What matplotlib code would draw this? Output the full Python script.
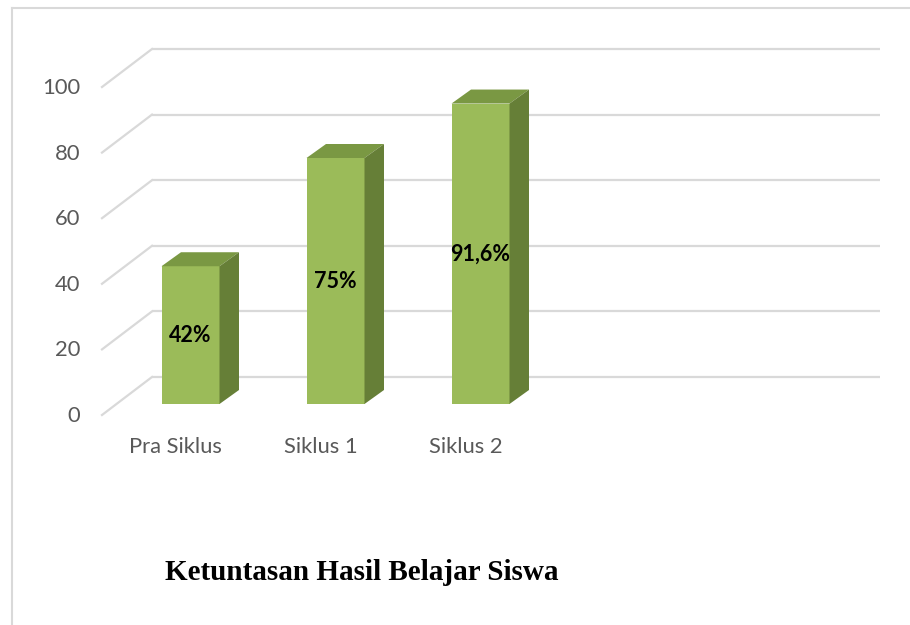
import numpy as np
import matplotlib.pyplot as plt
from matplotlib.lines import Line2D

# --- data ---
categories = ['Pra Siklus', 'Siklus 1', 'Siklus 2']
values = [42, 75, 91.6]
value_labels = ['42%', '75%', '91,6%']
y_ticks = [0, 20, 40, 60, 80, 100]
title = 'Ketuntasan Hasil Belajar Siswa'

# --- look ---
W, H = 910, 625
PX_PER_CAT = 145.0      # pixels between bar centres
PX_PER_UNIT = 3.28      # pixels per value unit
X0_PX = 190.5           # centre of first bar front face
Y0_PX = 404.0           # value 0 on the bar front plane (from top)

FRONT = '#9BBB59'
TOP = '#7A9843'
SIDE = '#667F37'
GRID = '#D9D9D9'
TEXT = '#595959'

def dx(px):
    return px / PX_PER_CAT

def dy(px):
    return px / PX_PER_UNIT

bar_w = dx(58)
depth_x, depth_y = dx(19.5), dy(14)
wall_y = dy(27)                 # back wall sits 27 px above front plane
wall_left, wall_right = dx(152 - X0_PX), dx(880 - X0_PX)
side_dx, side_dy = dx(-50), dy(-38)

fig = plt.figure(figsize=(W / 100, H / 100), dpi=100)
ax = fig.add_axes([0, 0, 1, 1])
ax.set_xlim(dx(-X0_PX), dx(W - X0_PX))
ax.set_ylim(dy(-(H - Y0_PX)), dy(Y0_PX))
ax.axis('off')

# back wall grid + left side wall lines
for v in y_ticks:
    yb = v + wall_y
    ax.plot([wall_left, wall_right], [yb, yb], color=GRID, lw=1.6, zorder=1,
            solid_capstyle='butt')
    ax.plot([wall_left, wall_left + side_dx], [yb, yb + side_dy], color=GRID,
            lw=1.6, zorder=1)
    ax.text(wall_left + side_dx - dx(22), yb + side_dy - dy(1), str(v),
            ha='right', va='center', fontsize=15.8, color=TEXT, family='Lato')

# bars
x = np.arange(len(categories))
for xi, v, lab in zip(x, values, value_labels):
    l, r = xi - bar_w / 2, xi + bar_w / 2
    ax.fill([l, r, r, l], [0, 0, v, v], color=FRONT, lw=0, zorder=3)
    ax.fill([l, r, r + depth_x, l + depth_x], [v, v, v + depth_y, v + depth_y],
            color=TOP, lw=0, zorder=3)
    ax.fill([r, r + depth_x, r + depth_x, r], [0, depth_y, v + depth_y, v],
            color=SIDE, lw=0, zorder=3)
    ax.text(xi, v / 2, lab, ha='center', va='center', fontsize=15.5,
            fontweight='bold', color='black', family='Lato', zorder=4)

# category labels on the floor front edge
for xi, c in zip(x, categories):
    ax.text(xi + dx(-15), dy(-43), c, ha='center', va='center', fontsize=15.8,
            color=TEXT, family='Lato')

# chart area border (cropped at right and bottom)
fig.add_artist(Line2D([12 / W, 12 / W], [0, 1 - 8 / H], color=GRID, lw=1.5))
fig.add_artist(Line2D([12 / W, 1], [1 - 8 / H, 1 - 8 / H], color=GRID, lw=1.5))

fig.text(362 / W, 1 - 572 / H, title, ha='center', va='center', fontsize=21,
         fontweight='bold', family='Liberation Serif')

fig.savefig('out.png', dpi=100)
